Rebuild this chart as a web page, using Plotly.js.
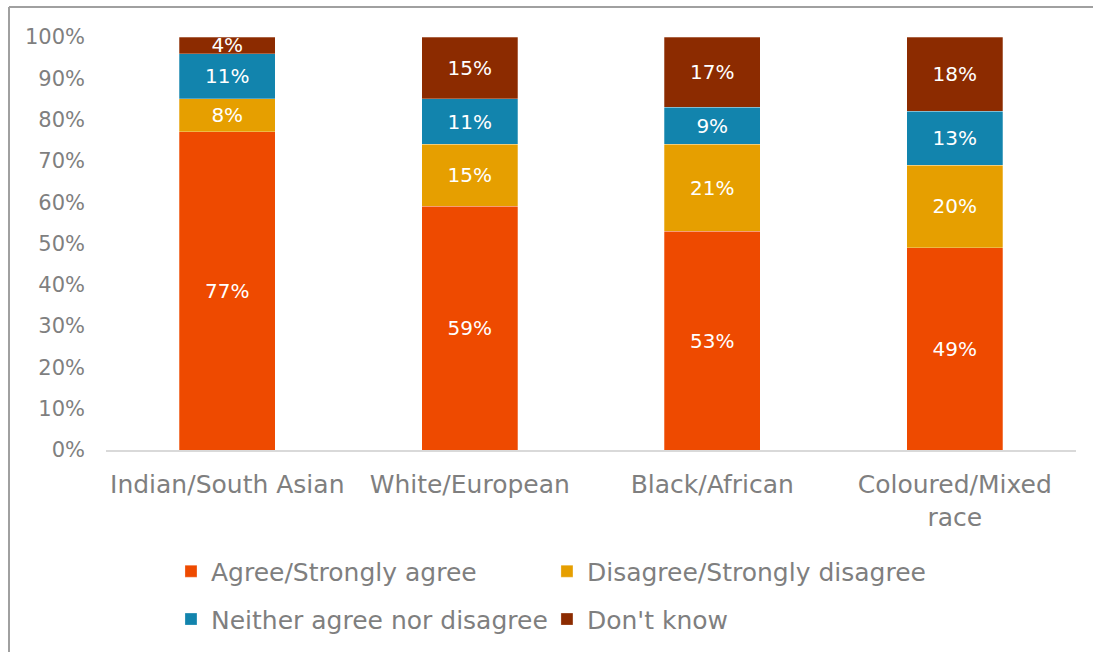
<!DOCTYPE html>
<html>
<head>
<meta charset="utf-8">
<script src="https://cdn.plot.ly/plotly-3.0.1.min.js"></script>
<style>
html,body{margin:0;padding:0;background:#fff;}
#chart{width:1093px;height:652px;}
</style>
</head>
<body>
<div id="chart"></div>
<script>
const categories = ["Indian/South Asian", "White/European", "Black/African", "Coloured/Mixed<br>race"];
const seriesNames = ["Agree/Strongly agree", "Disagree/Strongly disagree", "Neither agree nor disagree", "Don't know"];
const agree = [77, 59, 53, 49];
const disagree = [8, 15, 21, 20];
const neither = [11, 11, 9, 13];
const dontKnow = [4, 15, 17, 18];
const yTickVals = [0, 10, 20, 30, 40, 50, 60, 70, 80, 90, 100];
const yTickText = ["0%", "10%", "20%", "30%", "40%", "50%", "60%", "70%", "80%", "90%", "100%"];

const colors = ["#EE4A00", "#E69F00", "#1284AD", "#8C2B00"];
const seriesValues = [agree, disagree, neither, dontKnow];
const legendIds = ["legend", "legend2", "legend3", "legend4"];
const FONT = "'DejaVu Sans', 'Open Sans', sans-serif";
const GREY = "#7f7f7f";

const traces = seriesValues.map((vals, i) => ({
  type: "bar",
  name: seriesNames[i],
  x: categories,
  y: vals,
  text: vals.map(v => v + "%"),
  textposition: "inside",
  insidetextanchor: "middle",
  constraintext: "none",
  textfont: {family: FONT, size: 20, color: "#ffffff"},
  marker: {color: colors[i], line: {color: "rgba(255,255,255,0.45)", width: 0.6}},
  legend: legendIds[i],
  hoverinfo: "skip",
  cliponaxis: false
}));

const legendCommon = {
  orientation: "h",
  traceorder: "normal",
  xanchor: "left",
  yanchor: "middle",
  font: {family: FONT, size: 25, color: GREY},
  itemclick: false, itemdoubleclick: false,
  bgcolor: "rgba(0,0,0,0)"
};
const colX = [0.067, 0.4546];
const rowY = [-0.294, -0.410];

const layout = {
  width: 1093,
  height: 652,
  barmode: "stack",
  bargap: 0.604,
  paper_bgcolor: "#ffffff",
  plot_bgcolor: "#ffffff",
  margin: {l: 106, r: 17, t: 37, b: 202, autoexpand: false},
  font: {family: FONT, color: GREY},
  showlegend: true,
  xaxis: {
    showgrid: false,
    zeroline: false,
    showline: true,
    linecolor: "#d9d9d9",
    linewidth: 2,
    ticks: "",
    automargin: false,
    tickfont: {family: FONT, size: 25, color: GREY},
    ticklabelstandoff: 11
  },
  yaxis: {
    range: [0, 100],
    tickvals: yTickVals,
    ticktext: yTickText,
    showgrid: false,
    zeroline: false,
    showline: false,
    ticks: "",
    automargin: false,
    tickfont: {family: FONT, size: 21, color: GREY},
    ticklabelstandoff: 20
  },
  legend: Object.assign({}, legendCommon, {x: colX[0], y: rowY[0]}),
  legend2: Object.assign({}, legendCommon, {x: colX[1], y: rowY[0]}),
  legend3: Object.assign({}, legendCommon, {x: colX[0], y: rowY[1]}),
  legend4: Object.assign({}, legendCommon, {x: colX[1], y: rowY[1]}),
  shapes: [
    {type: "line", xref: "paper", yref: "paper", x0: -0.1, x1: 1.02, y0: 1.0726, y1: 1.0726,
     line: {color: "#a0a0a0", width: 2}},
    {type: "line", xref: "paper", yref: "paper", x0: -0.1, x1: -0.1, y0: 1.0726, y1: -0.5,
     line: {color: "#a0a0a0", width: 2}}
  ]
};

Plotly.newPlot("chart", traces, layout, {displayModeBar: false, staticPlot: true});
</script>
</body>
</html>
